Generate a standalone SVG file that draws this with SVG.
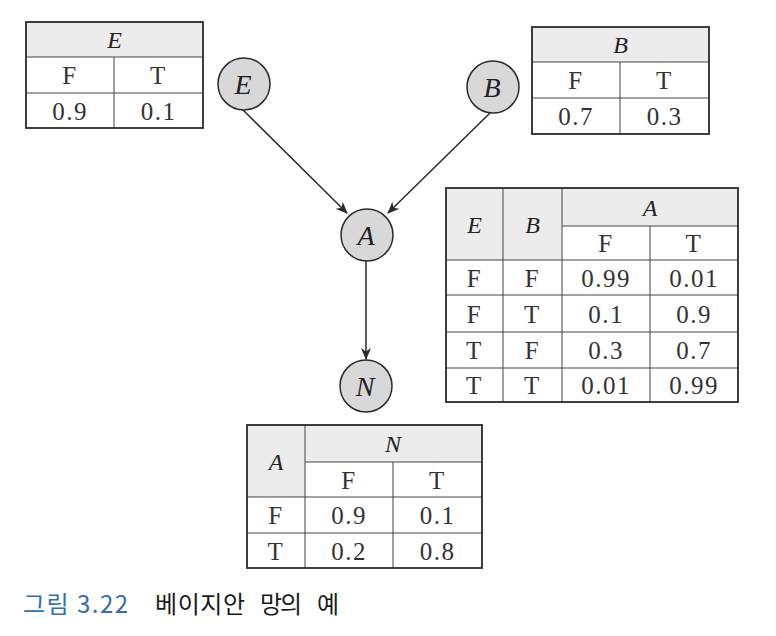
<svg xmlns="http://www.w3.org/2000/svg" width="776" height="636" viewBox="0 0 776 636">
<style>
.bg{fill:#ffffff}
.hdr{fill:#ececec;stroke:none}
.outer{fill:none;stroke:#2a2a2a;stroke-width:1.8}
.grid{stroke:#444;stroke-width:1;fill:none}
.node circle{fill:#d8d8d8;stroke:#2a2a2a;stroke-width:1.5}
.nl{font-family:"Liberation Serif",serif;font-style:italic;font-size:28px;fill:#222;text-anchor:middle}
.hv{font-family:"Liberation Serif",serif;font-style:italic;font-size:24px;fill:#222;text-anchor:middle}
.tv{font-family:"Liberation Serif",serif;font-size:25px;fill:#333;text-anchor:middle;letter-spacing:1.5px}
.edge{stroke:#2a2a2a;stroke-width:1.5;fill:none;marker-end:url(#arr)}
.cap{font-family:"Noto Sans CJK KR","Noto Sans",sans-serif;font-size:24px}
</style>
<defs>
<marker id="arr" viewBox="0 0 12 10" refX="11" refY="5" markerWidth="12" markerHeight="10" markerUnits="userSpaceOnUse" orient="auto">
<path d="M0,0 L12,5 L0,10 L3.5,5 Z" fill="#2a2a2a"/>
</marker>
</defs>
<rect class="bg" x="0" y="0" width="776" height="636"/>

<g id="edges">
<line class="edge" x1="243" y1="110" x2="347" y2="213"/>
<line class="edge" x1="490" y1="113" x2="388" y2="213"/>
<line class="edge" x1="366" y1="261" x2="366" y2="359"/>
</g>

<g id="node-E" class="node"><circle cx="244" cy="84" r="26"/><text class="nl" x="243" y="94">E</text></g>
<g id="node-B" class="node"><circle cx="493" cy="87" r="26"/><text class="nl" x="492" y="97">B</text></g>
<g id="node-A" class="node"><circle cx="367" cy="235" r="26"/><text class="nl" x="366" y="245">A</text></g>
<g id="node-N" class="node"><circle cx="366" cy="386" r="26"/><text class="nl" x="365" y="396">N</text></g>

<g id="table-E">
<rect class="hdr" x="26" y="22" width="177" height="35"/>
<path class="grid" d="M26,57 H203 M26,93 H203 M114,57 V128"/>
<rect class="outer" x="26" y="22" width="177" height="106"/>
<text class="hv" x="114.5" y="48">E</text>
<text class="tv" x="70" y="84">F</text>
<text class="tv" x="158.5" y="84">T</text>
<text class="tv" x="70" y="120">0.9</text>
<text class="tv" x="158.5" y="120">0.1</text>
</g>

<g id="table-B">
<rect class="hdr" x="532" y="27" width="177" height="35"/>
<path class="grid" d="M532,62 H709 M532,98 H709 M620,62 V134"/>
<rect class="outer" x="532" y="27" width="177" height="107"/>
<text class="hv" x="620.5" y="53">B</text>
<text class="tv" x="576" y="89">F</text>
<text class="tv" x="664.5" y="89">T</text>
<text class="tv" x="576" y="125">0.7</text>
<text class="tv" x="664.5" y="125">0.3</text>
</g>

<g id="table-A">
<rect class="hdr" x="446" y="188" width="116" height="72"/>
<rect class="hdr" x="562" y="188" width="176" height="38"/>
<path class="grid" d="M503,188 V402 M562,188 V402 M650,226 V402 M562,226 H738 M446,260 H738 M446,295 H738 M446,332 H738 M446,368 H738"/>
<rect class="outer" x="446" y="188" width="292" height="214"/>
<text class="hv" x="474.5" y="233">E</text>
<text class="hv" x="532.5" y="233">B</text>
<text class="hv" x="650" y="216">A</text>
<text class="tv" x="606" y="252">F</text>
<text class="tv" x="694" y="252">T</text>
<text class="tv" x="474.5" y="287">F</text><text class="tv" x="532.5" y="287">F</text><text class="tv" x="606" y="287">0.99</text><text class="tv" x="694" y="287">0.01</text>
<text class="tv" x="474.5" y="323">F</text><text class="tv" x="532.5" y="323">T</text><text class="tv" x="606" y="323">0.1</text><text class="tv" x="694" y="323">0.9</text>
<text class="tv" x="474.5" y="359">T</text><text class="tv" x="532.5" y="359">F</text><text class="tv" x="606" y="359">0.3</text><text class="tv" x="694" y="359">0.7</text>
<text class="tv" x="474.5" y="394">T</text><text class="tv" x="532.5" y="394">T</text><text class="tv" x="606" y="394">0.01</text><text class="tv" x="694" y="394">0.99</text>
</g>

<g id="table-N">
<rect class="hdr" x="247" y="425" width="58" height="72"/>
<rect class="hdr" x="305" y="425" width="177" height="37"/>
<path class="grid" d="M305,425 V568 M393,462 V568 M305,462 H482 M247,497 H482 M247,533 H482"/>
<rect class="outer" x="247" y="425" width="235" height="143"/>
<text class="hv" x="276" y="470">A</text>
<text class="hv" x="393" y="452">N</text>
<text class="tv" x="349" y="489">F</text>
<text class="tv" x="437.5" y="489">T</text>
<text class="tv" x="276" y="524">F</text><text class="tv" x="349" y="524">0.9</text><text class="tv" x="437.5" y="524">0.1</text>
<text class="tv" x="276" y="560">T</text><text class="tv" x="349" y="560">0.2</text><text class="tv" x="437.5" y="560">0.8</text>
</g>

<g id="caption">
<text class="cap" x="23" y="613" fill="#2f6fae" textLength="105" lengthAdjust="spacing">그림 3.22</text>
<text class="cap" x="155" y="613" fill="#1a1a1a" textLength="90" lengthAdjust="spacing">베이지안</text>
<text class="cap" x="260" y="613" fill="#1a1a1a" textLength="42" lengthAdjust="spacing">망의</text>
<text class="cap" x="317" y="613" fill="#1a1a1a">예</text>
</g>
</svg>
